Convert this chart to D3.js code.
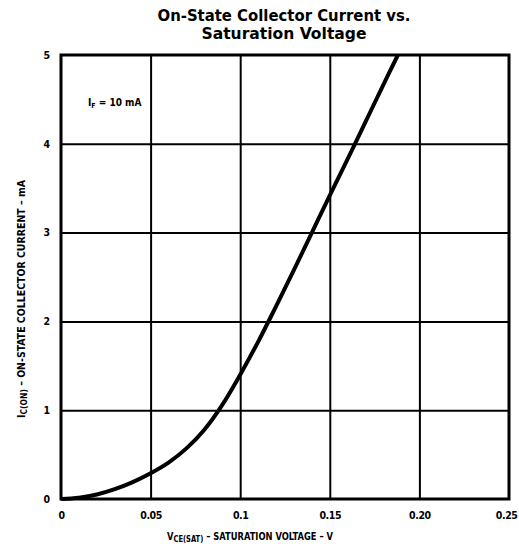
<!DOCTYPE html>
<html>
<head>
<meta charset="utf-8">
<script src="https://cdn.jsdelivr.net/npm/d3@7"></script>
<style>
  html, body { margin: 0; padding: 0; background: #fff; }
  svg { display: block; }
  text { font-family: "DejaVu Sans Condensed", "DejaVu Sans", sans-serif; font-stretch: condensed; font-weight: bold; fill: #000; }
</style>
</head>
<body>
<div id="chart"></div>
<script>
// values (I_F = 10 mA)
const vceSat = [0, 0.01, 0.02, 0.03, 0.04, 0.05, 0.06, 0.07, 0.08, 0.09, 0.1, 0.11, 0.12, 0.13, 0.14, 0.15, 0.16, 0.17, 0.18, 0.188];
const icOn   = [0, 0.015, 0.05, 0.11, 0.19, 0.29, 0.41, 0.57, 0.78, 1.06, 1.4, 1.77, 2.17, 2.58, 3.0, 3.42, 3.83, 4.25, 4.67, 5.0];

const xTicks = [0, 0.05, 0.1, 0.15, 0.2, 0.25];
const xTickLabels = ['0', '0.05', '0.1', '0.15', '0.20', '0.25'];
const yTicks = [0, 1, 2, 3, 4, 5];
const yTickLabels = ['0', '1', '2', '3', '4', '5'];

const titleLines = ['On-State Collector Current vs.', 'Saturation Voltage'];
const titleWidths = [253, 165];

const width = 519, height = 554;
const margin = { top: 55, right: 10, bottom: 55, left: 61 };
const innerW = width - margin.left - margin.right;
const innerH = height - margin.top - margin.bottom;

const svg = d3.select('#chart').append('svg')
  .attr('width', width)
  .attr('height', height);

const g = svg.append('g')
  .attr('transform', `translate(${margin.left},${margin.top})`);

const x = d3.scaleLinear().domain([0, 0.25]).range([0, innerW]);
const y = d3.scaleLinear().domain([0, 5]).range([innerH, 0]);

// grid
g.append('g')
  .attr('class', 'x-grid')
  .attr('transform', `translate(0,${innerH})`)
  .call(d3.axisBottom(x).tickValues(xTicks.slice(1, -1)).tickSize(-innerH).tickFormat(''))
  .call(s => s.select('.domain').remove())
  .call(s => s.selectAll('line').attr('stroke', '#000').attr('stroke-width', 2));

g.append('g')
  .attr('class', 'y-grid')
  .call(d3.axisLeft(y).tickValues(yTicks.slice(1, -1)).tickSize(-innerW).tickFormat(''))
  .call(s => s.select('.domain').remove())
  .call(s => s.selectAll('line').attr('stroke', '#000').attr('stroke-width', 2));

// frame
g.append('rect')
  .attr('width', innerW)
  .attr('height', innerH)
  .attr('fill', 'none')
  .attr('stroke', '#000')
  .attr('stroke-width', 3);

// tick labels
g.append('g')
  .attr('class', 'x-axis')
  .attr('transform', `translate(0,${innerH})`)
  .call(d3.axisBottom(x).tickValues(xTicks).tickSize(0).tickPadding(13)
    .tickFormat((d, i) => xTickLabels[i]))
  .call(s => s.select('.domain').remove())
  .call(s => s.selectAll('text').attr('font-size', 10.5).attr('letter-spacing', -0.4))
  .call(s => s.selectAll('.tick:last-of-type text').attr('text-anchor', 'end').attr('x', 8));

g.append('g')
  .attr('class', 'y-axis')
  .call(d3.axisLeft(y).tickValues(yTicks).tickSize(0).tickPadding(11)
    .tickFormat((d, i) => yTickLabels[i]))
  .call(s => s.select('.domain').remove())
  .call(s => s.selectAll('text').attr('font-size', 10.5));

// curve
const pts = vceSat.map((v, i) => [v, icOn[i]]);
const line = d3.line()
  .x(d => x(d[0]))
  .y(d => y(d[1]))
  .curve(d3.curveCatmullRom.alpha(0.5));

g.append('path')
  .datum(pts)
  .attr('fill', 'none')
  .attr('stroke', '#000')
  .attr('stroke-width', 4)
  .attr('d', line);

// annotation
const ann = g.append('text')
  .attr('x', 27)
  .attr('y', 51)
  .attr('font-size', 10);
ann.append('tspan').text('I');
ann.append('tspan').attr('font-size', 7).attr('dy', 2).text('F');
ann.append('tspan').attr('dy', -2).text(' = 10 mA');

// title
svg.selectAll('text.title')
  .data(titleLines)
  .join('text')
  .attr('class', 'title')
  .attr('x', 284)
  .attr('y', (d, i) => 21 + i * 18)
  .attr('text-anchor', 'middle')
  .attr('font-size', 15)
  .attr('textLength', (d, i) => titleWidths[i])
  .attr('lengthAdjust', 'spacingAndGlyphs')
  .text(d => d);

// x axis title
const xt = svg.append('text')
  .attr('x', 250)
  .attr('y', 540)
  .attr('text-anchor', 'middle')
  .attr('font-size', 10.5)
  .attr('textLength', 166)
  .attr('lengthAdjust', 'spacingAndGlyphs');
xt.append('tspan').text('V');
xt.append('tspan').attr('font-size', 8.5).attr('dy', 2).text('CE(SAT)');
xt.append('tspan').attr('dy', -2).text(' \u2013 SATURATION VOLTAGE \u2013 V');

// y axis title
const yt = svg.append('text')
  .attr('transform', 'translate(25,299) rotate(-90)')
  .attr('text-anchor', 'middle')
  .attr('font-size', 10.5)
  .attr('textLength', 238)
  .attr('lengthAdjust', 'spacingAndGlyphs');
yt.append('tspan').text('I');
yt.append('tspan').attr('font-size', 8.5).attr('dy', 2).text('C(ON)');
yt.append('tspan').attr('dy', -2).text(' \u2013 ON-STATE COLLECTOR CURRENT \u2013 mA');
</script>
</body>
</html>
